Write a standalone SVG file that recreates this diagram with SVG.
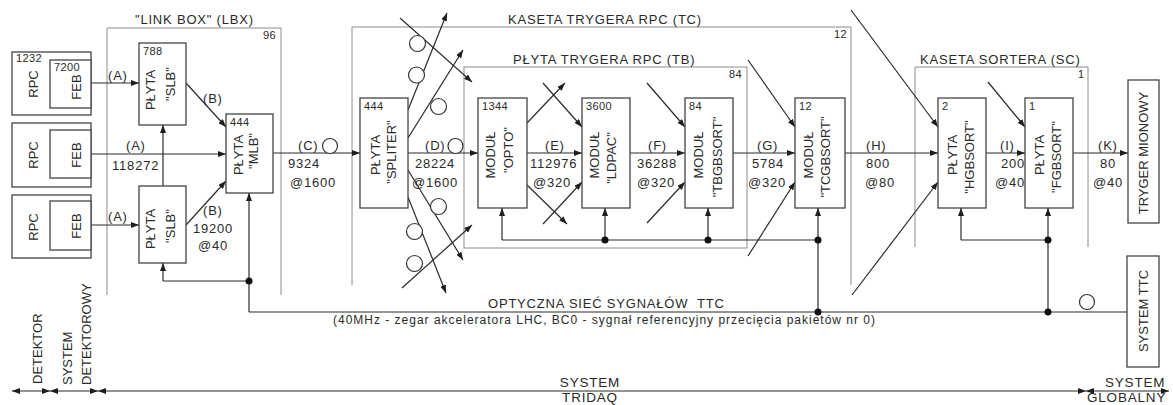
<svg xmlns="http://www.w3.org/2000/svg" width="1173" height="405" viewBox="0 0 1173 405">
<defs>
<marker id="ah" viewBox="0 0 8 6" refX="8" refY="3" markerWidth="8" markerHeight="6" markerUnits="userSpaceOnUse" orient="auto-start-reverse"><path d="M0,0L8,3L0,6z" fill="#1e1e1e"/></marker>
<style>
.t{font-family:"Liberation Sans",Arial,sans-serif;font-size:13px;fill:#2a2a2a;letter-spacing:0.8px}
.b{font-family:"Liberation Sans",Arial,sans-serif;font-size:13.5px;fill:#2a2a2a;letter-spacing:0.8px}
.v{font-family:"Liberation Sans",Arial,sans-serif;font-size:13px;fill:#2a2a2a;text-anchor:middle}
.vs{font-family:"Liberation Sans",Arial,sans-serif;font-size:13px;fill:#2a2a2a;text-anchor:start}
.n{font-family:"Liberation Sans",Arial,sans-serif;font-size:11px;fill:#2a2a2a;letter-spacing:0.4px}
.box{fill:#fff;stroke:#444;stroke-width:1.3}
.cont{fill:none;stroke:#8c8c8c;stroke-width:1}
.ln{fill:none;stroke:#2a2a2a;stroke-width:1.2}
.a{marker-end:url(#ah)}
.aa{marker-start:url(#ah);marker-end:url(#ah)}
.dot{fill:#111}
.oc{fill:#fff;stroke:#333;stroke-width:1.2}
</style>
</defs>
<rect width="1173" height="405" fill="#fff"/>

<g id="lbx">
<path class="cont" d="M107,295V28H281V295"/>
<text class="t" x="135" y="24">"LINK BOX" (LBX)</text>
<text class="n" x="263" y="39">96</text>
</g>
<g id="tc">
<path class="cont" d="M352,285V27H851V285"/>
<text class="t" x="508" y="24">KASETA TRYGERA RPC (TC)</text>
<text class="n" x="834" y="38">12</text>
</g>
<g id="tb">
<rect class="cont" x="464" y="67" width="283" height="181"/>
<text class="t" x="513" y="64">PŁYTA TRYGERA RPC (TB)</text>
<text class="n" x="729" y="78">84</text>
</g>
<g id="sc">
<path class="cont" d="M915,247V67H1088V247"/>
<text class="t" x="920" y="64">KASETA SORTERA (SC)</text>
<text class="n" x="1078" y="78">1</text>
</g>

<g id="connectors">
<path class="ln a" d="M91,83H139"/>
<path class="ln a" d="M91,154H226"/>
<path class="ln a" d="M91,225H139"/>
<path class="ln a" d="M186,83L226,127"/>
<path class="ln a" d="M186,225L226,181"/>
<path class="ln a" d="M163,186V125"/>
<path class="ln a" d="M163,281V263"/>
<path class="ln" d="M163,281H249"/>
<path class="ln a" d="M249,312V193"/>
<path class="ln" d="M249,312H1127"/>
<circle class="dot" cx="249" cy="281" r="3.5"/>

<path class="ln a" d="M273,153H360"/>
<path class="ln a" d="M408,153H478"/>
<path class="ln a" d="M527,153H582"/>
<path class="ln a" d="M630,153H685"/>
<path class="ln a" d="M733,153H795"/>
<path class="ln a" d="M845,153H938"/>
<path class="ln a" d="M986,153H1025"/>
<path class="ln a" d="M1073,153H1128"/>
<circle class="oc" cx="330" cy="146" r="7.5"/>
<circle class="oc" cx="455.5" cy="146" r="7.5"/>

<path class="ln a" d="M400,18L472,82"/>
<path class="ln a" d="M408,110L447,13"/>
<path class="ln a" d="M408,138L463,50"/>
<path class="ln a" d="M408,170L463,260"/>
<path class="ln a" d="M408,197L446,293"/>
<path class="ln a" d="M402,288L472,225"/>
<circle class="oc" cx="417.5" cy="43.5" r="8"/>
<circle class="oc" cx="416.5" cy="75" r="8"/>
<circle class="oc" cx="438.5" cy="106.5" r="8"/>
<circle class="oc" cx="438.5" cy="206.5" r="8"/>
<circle class="oc" cx="414.5" cy="231.5" r="8"/>
<circle class="oc" cx="414.5" cy="263.5" r="8"/>

<path class="ln a" d="M527,123L565,83"/>
<path class="ln a" d="M543,83L582,127"/>
<path class="ln a" d="M527,185L567,224"/>
<path class="ln a" d="M543,224L582,182"/>

<path class="ln a" d="M647,83L685,127"/>
<path class="ln a" d="M647,223L685,182"/>
<path class="ln a" d="M748,60L795,127"/>
<path class="ln a" d="M748,256L795,182"/>
<path class="ln a" d="M851,10L938,127"/>
<path class="ln a" d="M852,295L938,182"/>
<path class="ln a" d="M988,82L1025,127"/>

<path class="ln a" d="M502,240V208"/>
<path class="ln" d="M502,240H818"/>
<path class="ln a" d="M605,240V208"/>
<path class="ln a" d="M708,240V208"/>
<path class="ln a" d="M818,312V208"/>
<circle class="dot" cx="605" cy="240" r="3.5"/>
<circle class="dot" cx="708" cy="240" r="3.5"/>
<circle class="dot" cx="818" cy="240" r="3.5"/>
<circle class="dot" cx="818" cy="312" r="3.5"/>

<path class="ln a" d="M961,240V208"/>
<path class="ln" d="M961,240H1048"/>
<path class="ln a" d="M1048,312V208"/>
<circle class="dot" cx="1048" cy="240" r="3.5"/>
<circle class="dot" cx="1048" cy="312" r="3.5"/>
<circle class="oc" cx="1087" cy="302" r="7.5"/>

<path class="ln aa" d="M12,391H50"/>
<path class="ln aa" d="M50,391H98"/>
<path class="ln aa" d="M98,391H1086"/>
<path class="ln aa" d="M1086,391H1169"/>

<text class="t" x="108" y="80">(A)</text>
<text class="t" x="126" y="150">(A)</text>
<text class="t" x="112" y="170">118272</text>
<text class="t" x="108" y="221">(A)</text>
<text class="t" x="203" y="103">(B)</text>
<text class="t" x="203" y="215">(B)</text>
<text class="t" x="193" y="233">19200</text>
<text class="t" x="198" y="250">@40</text>
<text class="t" x="298" y="150">(C)</text>
<text class="t" x="288" y="168">9324</text>
<text class="t" x="290" y="187">@1600</text>
<text class="t" x="425" y="150">(D)</text>
<text class="t" x="415" y="168">28224</text>
<text class="t" x="412" y="187">@1600</text>
<text class="t" x="545" y="150">(E)</text>
<text class="t" x="530" y="168">112976</text>
<text class="t" x="533" y="187">@320</text>
<text class="t" x="648" y="150">(F)</text>
<text class="t" x="637" y="168">36288</text>
<text class="t" x="637" y="187">@320</text>
<text class="t" x="757" y="150">(G)</text>
<text class="t" x="752" y="168">5784</text>
<text class="t" x="748" y="187">@320</text>
<text class="t" x="866" y="150">(H)</text>
<text class="t" x="866" y="168">800</text>
<text class="t" x="865" y="187">@80</text>
<text class="t" x="1000" y="150">(I)</text>
<text class="t" x="1001" y="168">200</text>
<text class="t" x="995" y="187">@40</text>
<text class="t" x="1098" y="150">(K)</text>
<text class="t" x="1100" y="168">80</text>
<text class="t" x="1093" y="187">@40</text>

<text class="t" x="488" y="308" xml:space="preserve">OPTYCZNA SIEĆ SYGNAŁÓW  TTC</text>
<text class="t" x="333" y="324" style="font-size:12px;letter-spacing:0" textLength="542">(40MHz - zegar akceleratora LHC, BC0 - sygnał referencyjny przecięcia pakietów nr 0)</text>

<text class="vs" transform="translate(42,384) rotate(-90)">DETEKTOR</text>
<text class="vs" transform="translate(72,385) rotate(-90)">SYSTEM</text>
<text class="vs" transform="translate(91,385) rotate(-90)">DETEKTOROWY</text>
<text class="b" x="590" y="387" text-anchor="middle">SYSTEM</text>
<text class="b" x="590" y="402" text-anchor="middle">TRIDAQ</text>
<text class="b" x="1105" y="387">SYSTEM</text>
<text class="b" x="1087" y="402">GLOBALNY</text>
</g>

<g id="rpc1">
<rect class="box" x="12" y="52" width="79" height="63"/>
<rect class="box" x="50" y="60" width="41" height="48"/>
<text class="n" x="16" y="62">1232</text>
<text class="n" x="54" y="71">7200</text>
<text class="v" transform="translate(37.5,84) rotate(-90)">RPC</text>
<text class="v" transform="translate(80.5,87) rotate(-90)">FEB</text>
</g>
<g id="rpc2">
<rect class="box" x="12" y="123" width="79" height="64"/>
<rect class="box" x="50" y="130" width="41" height="48"/>
<text class="v" transform="translate(37.5,155) rotate(-90)">RPC</text>
<text class="v" transform="translate(80.5,155) rotate(-90)">FEB</text>
</g>
<g id="rpc3">
<rect class="box" x="12" y="195" width="79" height="63"/>
<rect class="box" x="50" y="201" width="41" height="49"/>
<text class="v" transform="translate(37.5,227) rotate(-90)">RPC</text>
<text class="v" transform="translate(80.5,226) rotate(-90)">FEB</text>
</g>
<g id="slb1">
<rect class="box" x="139" y="43" width="47" height="82"/>
<text class="n" x="143" y="55">788</text>
<text class="v" transform="translate(155,90) rotate(-90)">PŁYTA</text>
<text class="v" transform="translate(175,84) rotate(-90)">"SLB"</text>
</g>
<g id="slb2">
<rect class="box" x="139" y="186" width="47" height="77"/>
<text class="v" transform="translate(155,229) rotate(-90)">PŁYTA</text>
<text class="v" transform="translate(175,226) rotate(-90)">"SLB"</text>
</g>
<g id="mlb">
<rect class="box" x="226" y="114" width="47" height="79"/>
<text class="n" x="230" y="126">444</text>
<text class="v" transform="translate(242.5,155) rotate(-90)">PŁYTA</text>
<text class="v" transform="translate(258,151) rotate(-90)">"MLB"</text>
</g>
<g id="spliter">
<rect class="box" x="360" y="98" width="48" height="110"/>
<text class="n" x="364" y="110">444</text>
<text class="v" transform="translate(379.5,155) rotate(-90)">PŁYTA</text>
<text class="v" transform="translate(395.5,152) rotate(-90)">"SPLITER"</text>
</g>
<g id="opto">
<rect class="box" x="478" y="98" width="49" height="110"/>
<text class="n" x="482" y="110">1344</text>
<text class="v" transform="translate(495,155) rotate(-90)">MODUŁ</text>
<text class="v" transform="translate(513,150) rotate(-90)">"OPTO"</text>
</g>
<g id="ldpac">
<rect class="box" x="582" y="98" width="48" height="110"/>
<text class="n" x="586" y="110">3600</text>
<text class="v" transform="translate(598.5,155) rotate(-90)">MODUŁ</text>
<text class="v" transform="translate(616,158) rotate(-90)">"LDPAC"</text>
</g>
<g id="tbgbsort">
<rect class="box" x="685" y="98" width="48" height="110"/>
<text class="n" x="689" y="110">84</text>
<text class="v" transform="translate(702.5,155) rotate(-90)">MODUŁ</text>
<text class="v" transform="translate(721.5,157) rotate(-90)">"TBGBSORT"</text>
</g>
<g id="tcgbsort">
<rect class="box" x="795" y="98" width="50" height="110"/>
<text class="n" x="799" y="110">12</text>
<text class="v" transform="translate(812.5,155) rotate(-90)">MODUŁ</text>
<text class="v" transform="translate(829.5,157) rotate(-90)">"TCGBSORT"</text>
</g>
<g id="hgbsort">
<rect class="box" x="938" y="98" width="48" height="110"/>
<text class="n" x="942" y="110">2</text>
<text class="v" transform="translate(956.5,155) rotate(-90)">PŁYTA</text>
<text class="v" transform="translate(973.5,157) rotate(-90)">"HGBSORT"</text>
</g>
<g id="fgbsort">
<rect class="box" x="1025" y="98" width="48" height="110"/>
<text class="n" x="1029" y="110">1</text>
<text class="v" transform="translate(1043.5,155) rotate(-90)">PŁYTA</text>
<text class="v" transform="translate(1060.5,157) rotate(-90)">"FGBSORT"</text>
</g>
<g id="tryger">
<rect class="box" x="1128" y="80" width="31" height="143"/>
<text class="v" transform="translate(1148,153) rotate(-90)">TRYGER MIONOWY</text>
</g>
<g id="systemttc">
<rect class="box" x="1127" y="256" width="32" height="111"/>
<text class="v" transform="translate(1148,311) rotate(-90)">SYSTEM TTC</text>
</g>
</svg>
